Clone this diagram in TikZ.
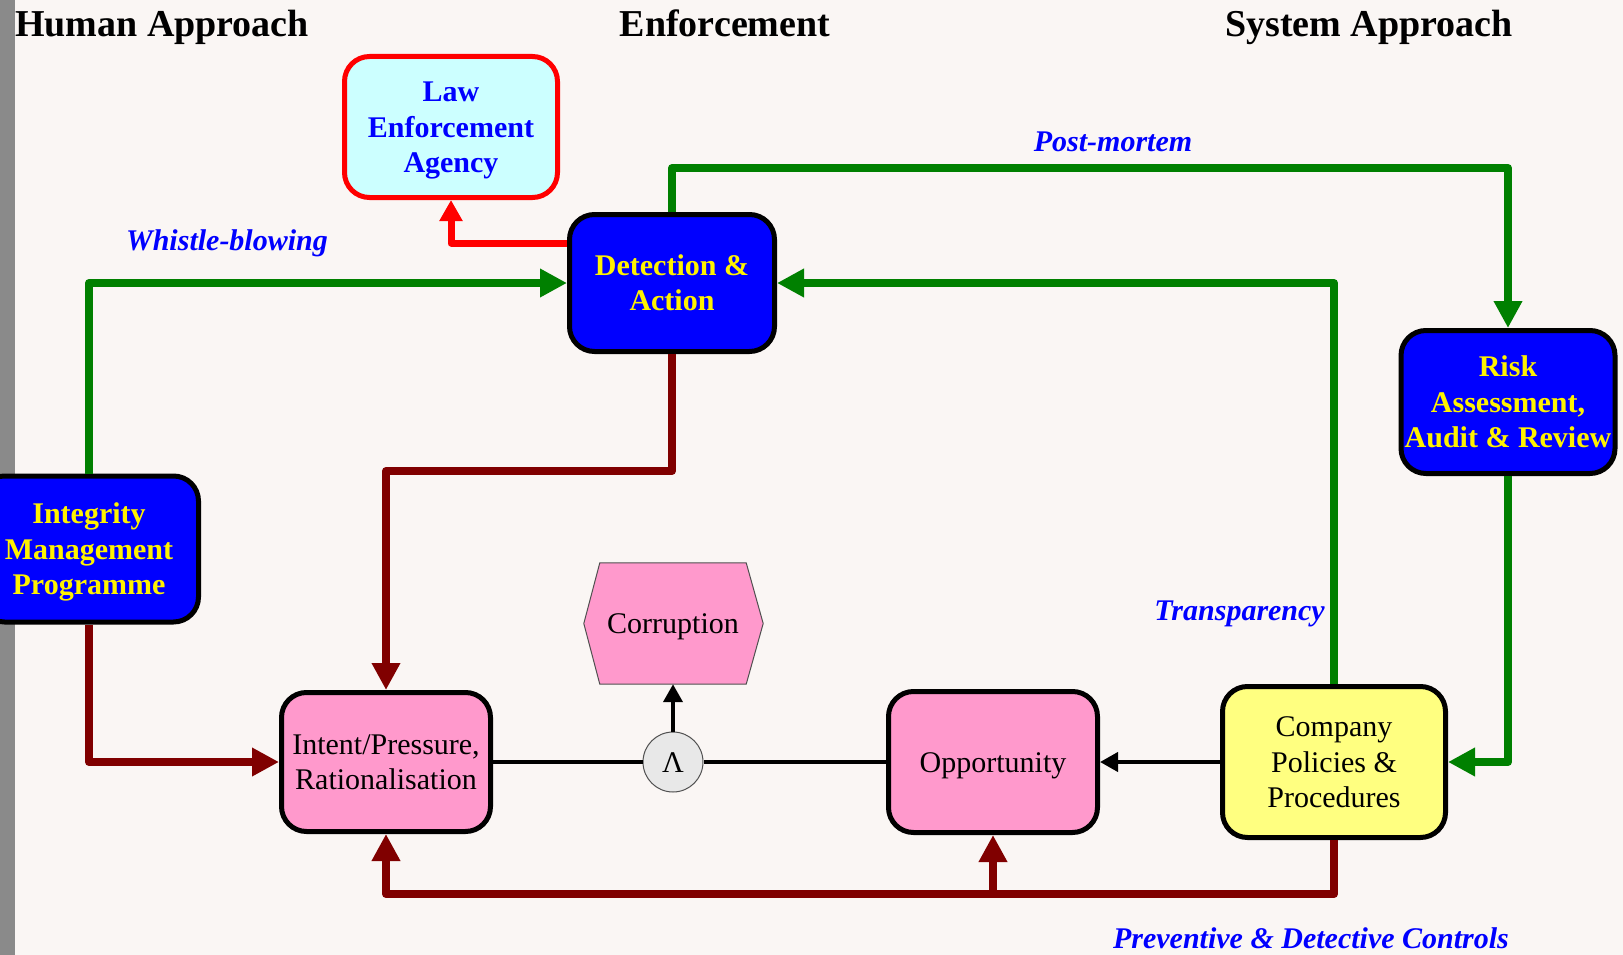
\documentclass[tikz,border=0pt]{standalone}
\usepackage{fontspec}
\setmainfont{Liberation Serif}
\usetikzlibrary{arrows.meta}
\definecolor{bgc}{HTML}{FAF6F4}
\definecolor{stripc}{HTML}{8A8A8A}
\definecolor{dgreen}{HTML}{008000}
\definecolor{dred}{HTML}{800000}
\definecolor{lcyan}{HTML}{CCFFFF}
\definecolor{pinkf}{HTML}{FF99CC}
\definecolor{lyellow}{HTML}{FFFF80}
\definecolor{lblue}{HTML}{0000FF}
\definecolor{circf}{HTML}{E8E8E8}
\definecolor{hexb}{HTML}{505050}
\newcommand\mys{\rule[-0.216em]{0pt}{1.107em}}
\begin{document}
\begin{tikzpicture}[x=1pt,y=-1pt,
  box/.style={draw=black, line width=5pt, rounded corners=25pt, align=center, inner sep=0pt},
  bluebox/.style={box, fill=blue, text=yellow, font=\fontsize{30}{35.6}\selectfont\bfseries},
  pinkbox/.style={box, fill=pinkf, font=\fontsize{30}{35.6}\selectfont},
  yellowbox/.style={box, fill=lyellow, font=\fontsize{30}{35.6}\selectfont},
  lawbox/.style={box, draw=red, fill=lcyan, text=lblue, font=\fontsize{30}{35.6}\selectfont\bfseries},
  titletext/.style={font=\fontsize{38}{44}\selectfont\bfseries, anchor=base, inner sep=0pt},
  lbl/.style={font=\fontsize{30}{36}\selectfont\bfseries\itshape, text=lblue, anchor=base, inner sep=0pt},
  gline/.style={draw=dgreen, line width=8pt, line join=round, -{Triangle[length=27pt,width=27pt]}},
  rline/.style={draw=dred, line width=8pt, line join=round, -{Triangle[length=27pt,width=27pt]}},
  redline/.style={draw=red, line width=7pt, line join=round, -{Triangle[length=21pt,width=22pt]}},
  bline/.style={draw=black, line width=4pt},
  barrow/.style={bline, -{Triangle[length=18pt,width=19pt]}}
]
\useasboundingbox (0,0) rectangle (1623,955);
\fill[bgc] (0,0) rectangle (1623,955);
\fill[stripc] (0,0) rectangle (15,955);

% titles
\node[titletext] (t1) at (162,36.7) {Human Approach};
\node[titletext] (t2) at (725,36.7) {Enforcement};
\node[titletext] (t3) at (1369,36.7) {System Approach};

% boxes
\node[lawbox, minimum width=213pt, minimum height=141pt] (law) at (451,127) {\mys Law\\\mys Enforcement\\\mys Agency};
\node[bluebox, minimum width=205pt, minimum height=137pt] (det) at (672,283) {\mys Detection \&\\\mys Action};
\node[bluebox, minimum width=214pt, minimum height=143pt] (risk) at (1508,402) {\mys Risk\\\mys Assessment,\\\mys Audit \& Review};
\node[bluebox, minimum width=219pt, minimum height=146pt] (integ) at (89,549) {\mys Integrity\\\mys Management\\\mys Programme};
\node[pinkbox, minimum width=209pt, minimum height=139pt] (intent) at (386,762) {\mys Intent/Pressure,\\\mys Rationalisation};
\node[pinkbox, minimum width=209pt, minimum height=141pt] (opp) at (993,762) {\mys Opportunity};
\node[yellowbox, minimum width=223pt, minimum height=151pt] (comp) at (1334,762) {\mys Company\\\mys Policies \&\\\mys Procedures};

% corruption hexagon
\path node[minimum width=146pt, minimum height=121pt, inner sep=0pt] (corr) at (673,623.5) {};
\draw[fill=pinkf, draw=hexb, line width=1pt]
  (corr.north west) -- (corr.north east) -- ([xshift=17pt]corr.east) -- (corr.south east)
  -- (corr.south west) -- ([xshift=-16pt]corr.west) -- cycle;
\node[font=\fontsize{30}{36}\selectfont, inner sep=0pt] (corrtext) at (corr.center) {\mys Corruption};

% AND circle
\node[circle, draw=hexb, fill=circf, line width=1pt, minimum size=60pt, inner sep=0pt,
  font=\fontsize{30}{36}\selectfont] (and) at (673,762) {\mys Λ};

% coordinates
\coordinate (pmc) at (1000,168);
\coordinate (dc) at (500,471);
\coordinate (bc) at (900,894);

% connectors
\draw[redline] ([yshift=40pt]det.west) -| (law.south);
\draw[gline] (integ.north) |- (det.west);
\draw[gline] (det.north) |- (pmc) -| (risk.north);
\draw[gline] (comp.north) |- (det.east);
\draw[gline] (risk.south) |- (comp.east);
\draw[rline] (det.south) |- (dc) -| (intent.north);
\draw[rline] (integ.south) |- (intent.west);
\draw[rline] (comp.south) |- (bc) -| (intent.south);
\draw[rline] (opp.south |- bc) -- (opp.south);
\draw[bline] (intent.east) -- (and.west);
\draw[bline] (and.east) -- (opp.west);
\draw[barrow] (and.north) -- (corr.south);
\draw[barrow] (comp.west) -- (opp.east);

% labels
\node[lbl] (wb) at (227,250) {Whistle-blowing};
\node[lbl] (pm) at (1113,152) {Post-mortem};
\node[lbl, anchor=base east] (tr) at (1325,620) {Transparency};
\node[lbl, anchor=base east] (pdc) at (1509,948) {Preventive \& Detective Controls};
\end{tikzpicture}
\end{document}
